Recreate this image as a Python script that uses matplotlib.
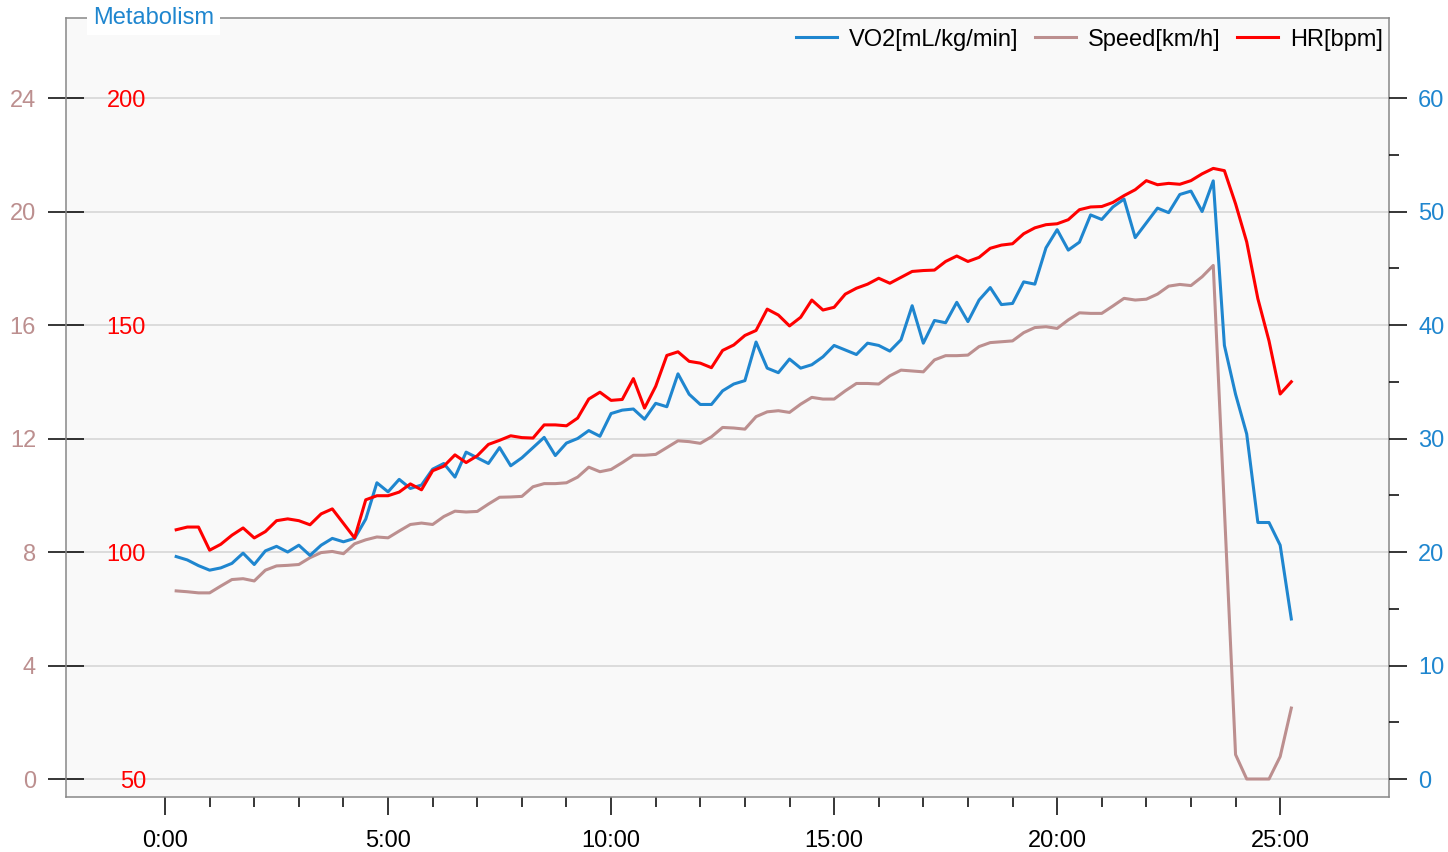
#Plot metabolism test: VO2, treadmill speed and heart rate against time
import numpy as np
import matplotlib
matplotlib.use("Agg")
import matplotlib.pyplot as plt
from matplotlib.ticker import FixedLocator, FuncFormatter

#Arial-like font, DejaVu as fallback
plt.rcParams['font.family'] = ['Liberation Sans', 'DejaVu Sans']

#Sample times in minutes (one sample every 15 s, 0:15 to 25:15)
time_min = np.arange(1, 102) * 0.25

#Speed [km/h]
speed_kmh = [6.63, 6.60, 6.56, 6.56, 6.80, 7.03, 7.06, 6.98, 7.36, 7.51,
             7.53, 7.56, 7.80, 7.98, 8.02, 7.94, 8.29, 8.43, 8.53, 8.50,
             8.74, 8.97, 9.02, 8.97, 9.25, 9.44, 9.41, 9.43, 9.69, 9.93,
             9.94, 9.96, 10.30, 10.41, 10.41, 10.44, 10.64, 10.99, 10.83, 10.91,
             11.15, 11.41, 11.41, 11.44, 11.68, 11.92, 11.89, 11.83, 12.06, 12.39,
             12.37, 12.33, 12.77, 12.94, 12.98, 12.92, 13.21, 13.45, 13.39, 13.39,
             13.68, 13.94, 13.94, 13.92, 14.21, 14.41, 14.38, 14.35, 14.77, 14.92,
             14.92, 14.94, 15.24, 15.38, 15.41, 15.44, 15.73, 15.91, 15.94, 15.88,
             16.18, 16.43, 16.41, 16.41, 16.67, 16.94, 16.88, 16.91, 17.09, 17.37,
             17.43, 17.39, 17.70, 18.10, 9.50, 0.86, 0.0, 0.0, 0.0, 0.79,
             2.50]

#VO2 [mL/kg/min]
vo2 = [19.6, 19.3, 18.8, 18.4, 18.6, 19.0, 19.9, 18.9, 20.1, 20.5,
       20.0, 20.6, 19.7, 20.6, 21.2, 20.9, 21.2, 22.9, 26.1, 25.3,
       26.4, 25.6, 25.9, 27.3, 27.8, 26.6, 28.8, 28.3, 27.8, 29.2,
       27.6, 28.3, 29.2, 30.1, 28.5, 29.6, 30.0, 30.7, 30.2, 32.2,
       32.5, 32.6, 31.7, 33.1, 32.8, 35.7, 33.9, 33.0, 33.0, 34.2,
       34.8, 35.1, 38.5, 36.2, 35.8, 37.0, 36.2, 36.5, 37.2, 38.2,
       37.8, 37.4, 38.4, 38.2, 37.7, 38.7, 41.7, 38.4, 40.4, 40.2,
       42.0, 40.3, 42.2, 43.3, 41.8, 41.9, 43.8, 43.6, 46.8, 48.4,
       46.6, 47.3, 49.7, 49.3, 50.4, 51.1, 47.7, 49.0, 50.3, 49.9,
       51.5, 51.8, 50.0, 52.7, 38.2, 33.9, 30.4, 22.6, 22.6, 20.6,
       14.1]

#Heart rate [bpm]
hr_bpm = [104.9, 105.5, 105.5, 100.4, 101.7, 103.7, 105.3, 103.1, 104.5, 106.9,
          107.3, 106.9, 106.0, 108.4, 109.5, 106.3, 103.1, 111.5, 112.4, 112.4,
          113.2, 115.0, 113.7, 117.9, 118.9, 121.4, 119.7, 121.2, 123.7, 124.6,
          125.6, 125.2, 125.1, 128.0, 128.0, 127.8, 129.5, 133.7, 135.2, 133.4,
          133.6, 138.2, 131.7, 136.5, 143.3, 144.1, 142.0, 141.6, 140.6, 144.4,
          145.6, 147.7, 148.8, 153.5, 152.2, 149.8, 151.7, 155.5, 153.3, 153.9,
          156.8, 158.1, 159.0, 160.3, 159.2, 160.5, 161.8, 162.0, 162.1, 164.0,
          165.2, 164.0, 164.9, 166.9, 167.6, 167.9, 170.1, 171.4, 172.1, 172.3,
          173.2, 175.4, 176.0, 176.1, 177.0, 178.5, 179.8, 181.8, 180.9, 181.2,
          181.0, 181.8, 183.3, 184.5, 184.0, 176.7, 168.3, 155.8, 146.5, 134.8,
          137.5]

#Tick values
speed_ticks = [0, 4, 8, 12, 16, 20, 24]
hr_ticks = [50, 100, 150, 200]
vo2_ticks = [0, 10, 20, 30, 40, 50, 60]
vo2_minor = [5, 15, 25, 35, 45, 55]
time_major = [0, 5, 10, 15, 20, 25]
time_minor = list(range(0, 26))

#Colours and text size
c_vo2 = '#1f86cf'
c_speed = '#bc8f8f'
c_hr = '#ff0000'
c_spine = '#888888'
fs = 17

fig = plt.figure(figsize=(14.48, 8.52), dpi=100)
ax = fig.add_axes([66/1448, 55/852, 1323/1448, 779/852])
ax.set_facecolor('#f9f9f9')

#Shared vertical scale (speed units), HR and VO2 mapped onto the same pixels
s_lim = (-0.634, 26.82)
ax.set_ylim(*s_lim)
ax.set_xlim(-2.22, 27.44)

#Speed on the main axis
ax.plot(time_min, speed_kmh, color=c_speed, lw=2.2, label='Speed[km/h]', zorder=3)
ax.yaxis.set_major_locator(FixedLocator(speed_ticks))
ax.tick_params(axis='y', direction='inout', length=26, width=1.1, color='black',
               pad=8.6, labelsize=fs, labelcolor=c_speed)
ax.grid(axis='y', color='#d4d4d4', lw=1.1)
ax.set_axisbelow(True)

#Time axis
ax.xaxis.set_major_locator(FixedLocator(time_major))
ax.xaxis.set_minor_locator(FixedLocator(time_minor))
ax.xaxis.set_major_formatter(FuncFormatter(lambda v, pos: f"{int(v)}:00"))
ax.tick_params(axis='x', which='major', length=13, width=1.1, pad=10.5, labelsize=fs)
ax.tick_params(axis='x', which='minor', length=7.5, width=1.1)

for sp in ax.spines.values():
    sp.set_color(c_spine)
    sp.set_linewidth(1.1)

#VO2 on the right axis
ax_v = ax.twinx()
ax_v.set_ylim(2.5 * s_lim[0], 2.5 * s_lim[1])
ax_v.plot(time_min, vo2, color=c_vo2, lw=2.2, label='VO2[mL/kg/min]')
ax_v.yaxis.set_major_locator(FixedLocator(vo2_ticks))
ax_v.yaxis.set_minor_locator(FixedLocator(vo2_minor))
ax_v.tick_params(axis='y', which='major', length=13, width=1.1, pad=8,
                 labelsize=fs, labelcolor=c_vo2)
ax_v.tick_params(axis='y', which='minor', length=7, width=1.1)
for sp in ax_v.spines.values():
    sp.set_visible(False)

#HR with its labels drawn inside the left edge
ax_h = ax.twinx()
ax_h.set_ylim(50 + 6.25 * s_lim[0], 50 + 6.25 * s_lim[1])
ax_h.plot(time_min, hr_bpm, color=c_hr, lw=2.2, label='HR[bpm]')
ax_h.yaxis.set_major_locator(FixedLocator(hr_ticks))
ax_h.yaxis.set_ticks_position('left')
ax_h.tick_params(axis='y', length=0, pad=-57.6, labelsize=fs, labelcolor=c_hr,
                 labelleft=True, labelright=False)
for sp in ax_h.spines.values():
    sp.set_visible(False)

#Legend (all three series) in the upper right corner
handles = ax_v.get_lines() + ax.get_lines() + ax_h.get_lines()
ax_h.legend(handles, [h.get_label() for h in handles], loc='upper right',
            bbox_to_anchor=(0.9955, 0.9865), ncol=3, frameon=False,
            fontsize=fs, handlelength=1.75, handletextpad=0.5,
            columnspacing=0.7, borderaxespad=0.0, borderpad=0.0)

#Panel title sitting on the top frame line
ax_h.text(0.0204, 1.0, 'Metabolism', transform=ax.transAxes, color=c_vo2,
          fontsize=fs, ha='left', va='center', zorder=10, clip_on=False,
          bbox=dict(facecolor='white', edgecolor='none', pad=4))

fig.savefig('out.png', dpi=100)
plt.close(fig)
